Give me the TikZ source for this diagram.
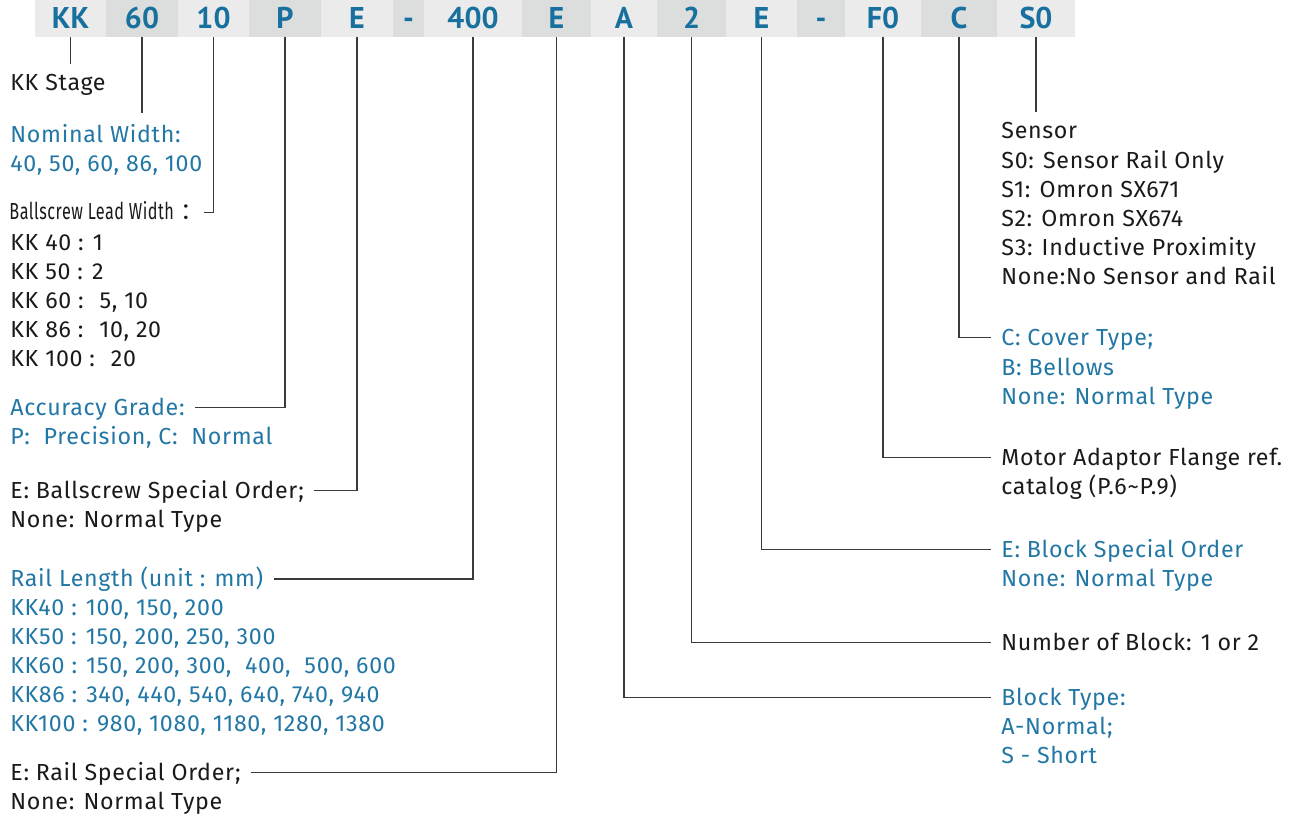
\documentclass[tikz,border=0pt]{standalone}
\usepackage{fontspec}
\setmainfont{Fira Sans}[LetterSpace=3]
\newfontfamily\barfont{PT Sans}
\newfontfamily\cjkfont{Noto Sans CJK SC}
\usetikzlibrary{positioning}
\definecolor{codeblue}{HTML}{17709E}
\definecolor{txtblue}{HTML}{2277A5}
\definecolor{txtblack}{HTML}{1A1A1A}
\definecolor{cellA}{HTML}{EBEBEB}
\definecolor{cellB}{HTML}{DCDEDD}
\definecolor{linegray}{HTML}{3A3A3A}
\tikzset{
  cell/.style={minimum height=18.5pt, inner sep=0pt, text=codeblue,
    font=\barfont\fontsize{15}{15}\selectfont\bfseries, text height=10.5pt, text depth=0pt},
  lbl/.style={inner xsep=5pt, inner ysep=0pt, align=left, anchor=base west,
    font=\fontsize{11.6}{14.5}\selectfont, text=txtblack},
  blue lbl/.style={lbl, text=txtblue},
  body/.style={anchor=north west},
  leader/.style={draw=linegray, line width=0.75pt},
}
\begin{document}
\begin{tikzpicture}[x=0.5pt,y=-0.5pt]
    \useasboundingbox (0,0) rectangle (1295,818);
    % Draw the code bar, one cell per field
    \foreach \name/\xa/\xb/\txt/\shade in {kk/35/106/KK/cellA, wid/106/178/60/cellB,
        lead/178/249/10/cellA, acc/249/321/P/cellB, bse/321/393/E/cellA, dA/393/424/-/cellB,
        len/424/522/400/cellA, rse/522/591/E/cellB, blk/591/657/A/cellA, num/657/726/2/cellB,
        bke/726/797/E/cellA, dB/797/845/-/cellB, flg/845/921/F0/cellA, cov/921/997/C/cellB,
        sen/997/1075/S0/cellA} {
        \node[cell, fill=\shade, minimum width={(\xb-\xa)*0.5pt}] (\name) at ({(\xa+\xb)/2}, 18.5) {\txt};
    }

    % Left column
    \node[lbl] (stage) at (0, 90.5) {KK Stage};
    \node[blue lbl] (widT) at (0, 143) {Nominal Width:};
    \node[blue lbl] (widB) at ([yshift=-14.5pt]widT.base west) {40, 50, 60, 86, 100};
    \node[lbl, inner xsep=0pt] (leadT) at (9, 220) {\scalebox{0.7}[1]{Ballscrew Lead Width} {\cjkfont ：}};
    \node[lbl, body] (leadB) at ([yshift=-7.1pt, xshift=-4.5pt]leadT.base west) {KK 40 : 1\\KK 50 : 2\\KK 60 :~ 5, 10\\KK 86 :~ 10, 20\\KK 100 :~ 20};
    \node[blue lbl] (accT) at (0, 415) {Accuracy Grade:};
    \node[blue lbl] (accB) at ([yshift=-14.5pt]accT.base west) {P:~ Precision, C:~ Normal};
    \node[lbl] (bseT) at (0, 498) {E: Ballscrew Special Order;};
    \node[lbl] (bseB) at ([yshift=-14.5pt]bseT.base west) {None: Normal Type};
    \node[blue lbl] (lenT) at (0, 586.5) {Rail Length (unit : mm)};
    \node[blue lbl, body] (lenB) at ([yshift=-6.2pt]lenT.base west) {KK40 : 100, 150, 200\\KK50 : 150, 200, 250, 300\\KK60 : 150, 200, 300,~ 400,~ 500, 600\\KK86 : 340, 440, 540, 640, 740, 940\\KK100 : 980, 1080, 1180, 1280, 1380};
    \node[lbl] (rseT) at (0, 780) {E: Rail Special Order;};
    \node[lbl] (rseB) at ([yshift=-14.5pt]rseT.base west) {None: Normal Type};

    % Right column
    \node[lbl] (senT) at (991, 139) {Sensor};
    \node[lbl, body] (senB) at ([yshift=-5.7pt]senT.base west) {S0: Sensor Rail Only\\S1: Omron SX671\\S2: Omron SX674\\S3: Inductive Proximity\\None:No Sensor and Rail};
    \node[blue lbl] (covT) at (991, 345) {C: Cover Type;};
    \node[blue lbl, body] (covB) at ([yshift=-6.2pt]covT.base west) {B: Bellows\\None: Normal Type};
    \node[lbl] (flgT) at (991, 465) {Motor Adaptor Flange ref.};
    \node[lbl] (flgB) at ([yshift=-14.5pt]flgT.base west) {catalog (P.6\textasciitilde P.9)};
    \node[blue lbl] (bkeT) at (991, 557) {E: Block Special Order};
    \node[blue lbl] (bkeB) at ([yshift=-14.5pt]bkeT.base west) {None: Normal Type};
    \node[lbl] (numT) at (991, 650) {Number of Block: 1 or 2};
    \node[blue lbl] (blkT) at (991, 705) {Block Type:};
    \node[blue lbl, body] (blkB) at ([yshift=-5.8pt]blkT.base west) {A-Normal;\\S - Short};

    % Leader lines
    \draw[leader, shorten >=5pt] (kk.south) -- (kk.south |- stage.north);
    \draw[leader, shorten >=6pt] (wid.south) -- (wid.south |- widT.north);
    \draw[leader] (lead.south) |- ([yshift=1.2pt]leadT.mid east);
    \draw[leader] (acc.south) |- ([yshift=1.2pt]accT.mid east);
    \draw[leader] (bse.south) |- ([yshift=1.2pt]bseT.mid east);
    \draw[leader] (len.south) |- ([yshift=1.2pt]lenT.mid east);
    \draw[leader] (rse.south) |- ([yshift=1.2pt]rseT.mid east);
    \draw[leader] (blk.south) |- ([yshift=1.2pt]blkT.mid west);
    \draw[leader] (num.south) |- ([yshift=1.2pt]numT.mid west);
    \draw[leader] (bke.south) |- ([yshift=1.2pt]bkeT.mid west);
    \draw[leader] (flg.south) |- ([yshift=1.2pt]flgT.mid west);
    \draw[leader] (cov.south) |- ([yshift=1.2pt]covT.mid west);
    \draw[leader, shorten >=5pt] (sen.south) -- (sen.south |- senT.north);
\end{tikzpicture}
\end{document}
